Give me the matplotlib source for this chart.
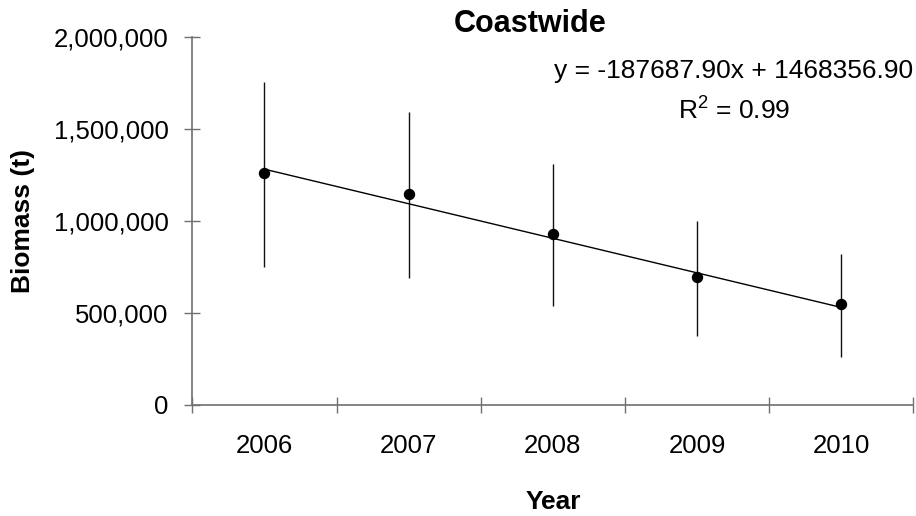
import matplotlib
matplotlib.use("Agg")
import matplotlib.pyplot as plt
import numpy as np

years = ["2006", "2007", "2008", "2009", "2010"]
biomass = [1258000, 1144000, 928000, 693000, 547000]
err_low = [748000, 688000, 540000, 376000, 262000]
err_high = [1756000, 1593000, 1307000, 1001000, 818000]
slope = -187687.90
intercept = 1468356.90
r2 = 0.99
yticks = [0, 500000, 1000000, 1500000, 2000000]

plt.rcParams['font.family'] = ['Liberation Sans', 'DejaVu Sans']
plt.rcParams['mathtext.fontset'] = 'custom'
plt.rcParams['mathtext.rm'] = 'Liberation Sans'
plt.rcParams['mathtext.it'] = 'Liberation Sans'

FS = 18.5
FL = 19
fig = plt.figure(figsize=(9.16, 5.16), dpi=100)
W, H = 916, 516
left, right, top, bottom = 192.3, 913.3, 36.7, 405.0
ax = fig.add_axes([left / W, 1 - bottom / H, (right - left) / W, (bottom - top) / H])

x = np.arange(1, len(years) + 1)
b = np.array(biomass)
lo = b - np.array(err_low)
hi = np.array(err_high) - b
ax.errorbar(x, b, yerr=[lo, hi], fmt='none', ecolor='#111111', elinewidth=1.0, capsize=0, zorder=2)
ax.plot(x, slope * x + intercept, color='black', lw=1.0, zorder=3)
ax.plot(x, b, 'o', color='black', markersize=7.2, zorder=4)

ax.set_xlim(0.5, len(years) + 0.5)
ax.set_ylim(0, 2000000)
axc = '#707070'
for s in ['top', 'right']:
    ax.spines[s].set_visible(False)
for s in ['left', 'bottom']:
    ax.spines[s].set_color(axc)
    ax.spines[s].set_linewidth(1.2)

ax.set_yticks(yticks)
ax.set_yticklabels([f"{v:,}" for v in yticks])
ax.set_xticks(np.arange(0.5, len(years) + 1, 1.0))
ax.set_xticklabels([])
ax.set_xticks(x, minor=True)
ax.set_xticklabels(years, minor=True)
ax.tick_params(axis='both', which='major', direction='inout', length=12, width=1.0, color=axc, labelsize=FS)
ax.tick_params(axis='y', which='major', pad=11)
ax.tick_params(axis='x', which='minor', length=0, pad=21, labelsize=FS)

ax.set_ylabel("Biomass (t)", fontsize=FL, fontweight='bold')
ax.yaxis.set_label_coords((23 - left) / (right - left), 0.5)
ax.yaxis.label.set_va('center')
ax.set_xlabel("Year", fontsize=FL, fontweight='bold')
ax.xaxis.set_label_coords((553 - left) / (right - left), (bottom - 502) / (bottom - top))
ax.xaxis.label.set_va('center')

fig.text(530 / W, 1 - 31.7 / H, "Coastwide", fontsize=22, fontweight='bold', ha='center', va='baseline')
fig.text(734 / W, 1 - 78.3 / H, f"y = {slope:.2f}x + {intercept:.2f}", fontsize=FL, ha='center', va='baseline')
fig.text(734 / W, 1 - 120 / H, "R$^{2}$" + f" = {r2:.2f}", fontsize=FL, ha='center', va='baseline')

fig.savefig("out.png", dpi=100)
